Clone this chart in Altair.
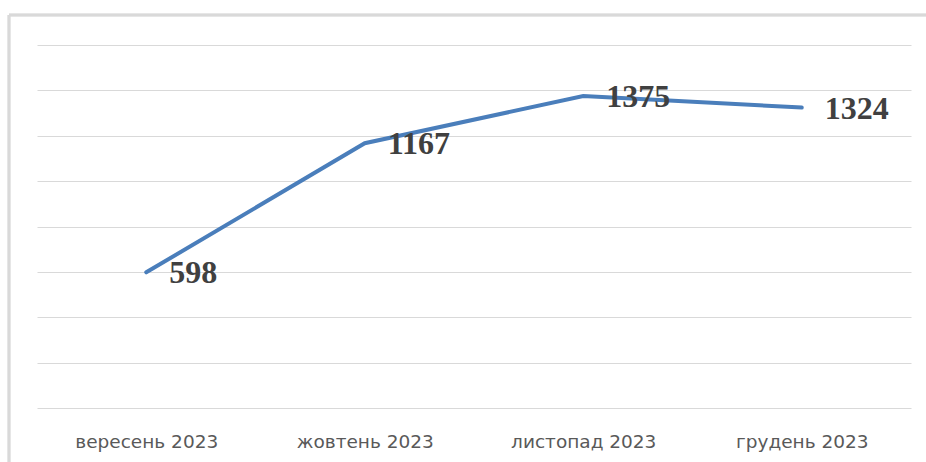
import altair as alt
import pandas as pd

# Monthly totals, autumn–winter 2023
months = ["вересень 2023", "жовтень 2023", "листопад 2023", "грудень 2023"]
totals = [598, 1167, 1375, 1324]
y_ticks = [0, 200, 400, 600, 800, 1000, 1200, 1400, 1600]

df = pd.DataFrame({"month": months, "total": totals})

W, H = 874, 363

x_enc = alt.X(
    "month:N",
    sort=months,
    scale=alt.Scale(type="point", padding=0.5),
    axis=alt.Axis(
        title=None,
        domain=False,
        ticks=False,
        labelAngle=0,
        labelFont="DejaVu Sans",
        labelFontSize=18.5,
        labelColor="#595959",
        labelPadding=24,
    ),
)
y_enc = alt.Y(
    "total:Q",
    scale=alt.Scale(domain=[0, 1600], nice=False),
    axis=alt.Axis(
        title=None,
        values=y_ticks,
        labels=False,
        ticks=False,
        domain=False,
        grid=True,
        gridColor="#d9d9d9",
        gridWidth=1.2,
    ),
)

base = alt.Chart(df).encode(x=x_enc, y=y_enc)

line = base.mark_line(color="#4a7ebb", strokeWidth=4, strokeCap="round")

labels = base.mark_text(
    align="left",
    baseline="middle",
    dx=23,
    dy=1,
    font="Liberation Serif",
    fontWeight="bold",
    fontSize=32,
    color="#404040",
).encode(text="total:Q")

# Outer chart frame (top and left edges)
frame_top = alt.Chart(df).mark_rule(color="#d9d9d9", strokeWidth=2.5).encode(
    x=alt.value(-28), x2=alt.value(900), y=alt.value(-30)
)
frame_left = alt.Chart(df).mark_rule(color="#d9d9d9", strokeWidth=2.5).encode(
    x=alt.value(-28), y=alt.value(-30), y2=alt.value(430)
)

chart = (
    alt.layer(frame_top, frame_left, line, labels)
    .properties(
        width=W,
        height=H,
        autosize=alt.AutoSizeParams(type="none"),
        padding={"left": 37, "top": 45, "right": 15, "bottom": 54},
        view=alt.ViewBackground(stroke="transparent", strokeWidth=0),
    )
    .configure_view(stroke="transparent", strokeWidth=0)
    .configure(background="white")
)

chart.save("out.html", embed_options={"renderer": "svg", "actions": False})
